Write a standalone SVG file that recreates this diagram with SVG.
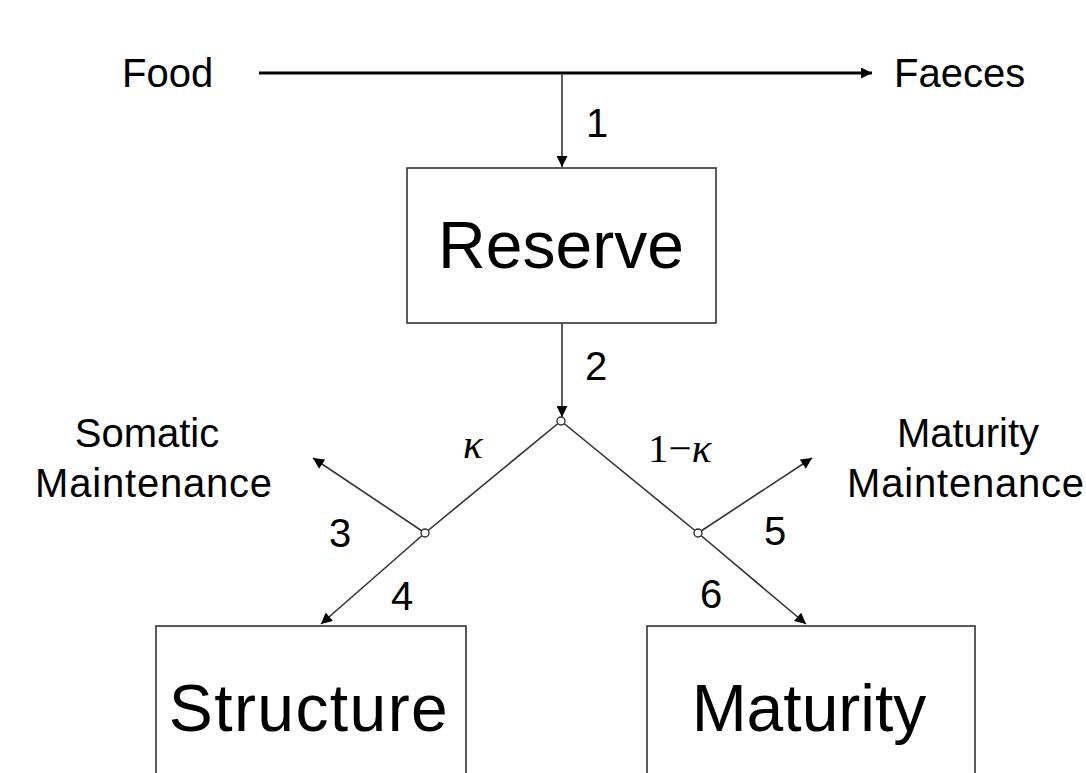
<svg xmlns="http://www.w3.org/2000/svg" width="1086" height="773" viewBox="0 0 1086 773">
<style>
.lbl{font-family:"Liberation Sans",Arial,sans-serif;font-size:40px;fill:#000}
.big{font-family:"Liberation Sans",Arial,sans-serif;font-size:66px;fill:#000;text-anchor:middle}
.greek{font-family:"Liberation Serif","Times New Roman",serif;font-style:italic;font-size:41px;fill:#000}
.up{font-style:normal}
.box{fill:#fff;stroke:#333;stroke-width:1.6}
.ln{stroke:#333;stroke-width:1.6;fill:none}
.node{fill:#fff;stroke:#333;stroke-width:1.4}
</style>
<defs>
<marker id="ahs" viewBox="0 0 10 10" refX="10" refY="5" markerWidth="13" markerHeight="11" markerUnits="userSpaceOnUse" orient="auto">
<path d="M0,0 L10,5 L0,10 z" fill="#000"/>
</marker>
</defs>
<rect width="1086" height="773" fill="#fff"/>
<g id="connectors">
<line x1="259" y1="73" x2="872" y2="73" stroke="#000" stroke-width="3" marker-end="url(#ahs)"/>
<line class="ln" x1="562" y1="73" x2="562" y2="167" marker-end="url(#ahs)"/>
<line class="ln" x1="562" y1="323" x2="562" y2="417" marker-end="url(#ahs)"/>
<line class="ln" x1="561" y1="421" x2="425" y2="533"/>
<line class="ln" x1="425" y1="533" x2="321" y2="624" marker-end="url(#ahs)"/>
<line class="ln" x1="425" y1="533" x2="313" y2="458" marker-end="url(#ahs)"/>
<line class="ln" x1="561" y1="421" x2="698" y2="533"/>
<line class="ln" x1="698" y1="533" x2="806" y2="624" marker-end="url(#ahs)"/>
<line class="ln" x1="698" y1="533" x2="812" y2="458" marker-end="url(#ahs)"/>
<circle class="node" cx="561" cy="421" r="4"/>
<circle class="node" cx="425" cy="533" r="4"/>
<circle class="node" cx="698" cy="533" r="4"/>
<text class="lbl" x="586" y="137">1</text>
<text class="lbl" x="585" y="380">2</text>
<text class="lbl" x="329" y="547">3</text>
<text class="lbl" x="391" y="610">4</text>
<text class="lbl" x="764" y="545">5</text>
<text class="lbl" x="700" y="608">6</text>
<text class="greek" x="463" y="458">κ</text>
<text class="greek" x="648" y="462"><tspan class="up">1−</tspan>κ</text>
</g>
<g id="food"><text class="lbl" x="122" y="87">Food</text></g>
<g id="faeces"><text class="lbl" x="894" y="87">Faeces</text></g>
<g id="reserve">
<rect class="box" x="407" y="168" width="309" height="155"/>
<text class="big" x="561" y="268">Reserve</text>
</g>
<g id="somatic-maintenance">
<text class="lbl" x="147" y="447" text-anchor="middle">Somatic</text>
<text class="lbl" x="154" y="497" text-anchor="middle" letter-spacing="0.8">Maintenance</text>
</g>
<g id="maturity-maintenance">
<text class="lbl" x="968" y="447" text-anchor="middle">Maturity</text>
<text class="lbl" x="966" y="497" text-anchor="middle" letter-spacing="0.8">Maintenance</text>
</g>
<g id="structure">
<rect class="box" x="156" y="626" width="310" height="160"/>
<text class="big" x="309" y="731" letter-spacing="1.4">Structure</text>
</g>
<g id="maturity">
<rect class="box" x="647" y="626" width="328" height="160"/>
<text class="big" x="809" y="731">Maturity</text>
</g>
</svg>
